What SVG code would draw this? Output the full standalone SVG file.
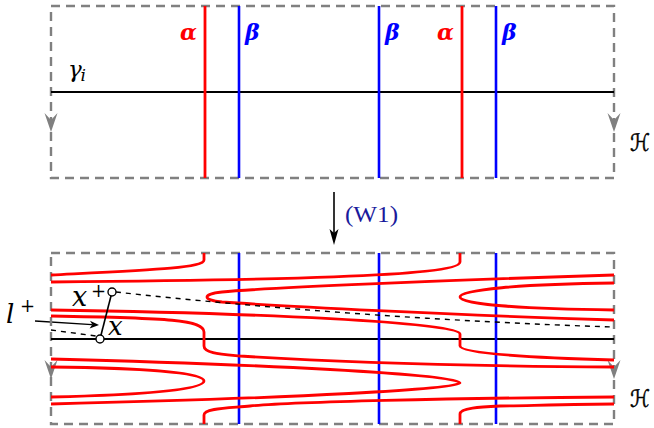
<svg xmlns="http://www.w3.org/2000/svg" width="654" height="428" viewBox="0 0 654 428">
<defs>
<style>
.frame{fill:none;stroke:#808080;stroke-width:2.4;stroke-dasharray:9 6}
.gah{fill:#808080}
.blk{fill:none;stroke:#000;stroke-width:2}
.red{fill:none;stroke:#ff0000;stroke-width:2.8}
.blue{fill:none;stroke:#0000ff;stroke-width:2.6}
.thin{fill:none;stroke:#000;stroke-width:1.4}
.dash{fill:none;stroke:#000;stroke-width:1.4;stroke-dasharray:5 5}
.node{fill:#fff;stroke:#000;stroke-width:1.4}
.gl{font-family:"DejaVu Serif",serif;font-weight:bold;font-style:italic;font-size:22px}
.it{font-family:"DejaVu Serif",serif;font-style:italic}
.sc{font-family:"DejaVu Serif","DejaVu Sans",serif;font-size:24px;stroke:#000;stroke-width:0.5}
</style>
<path id="garrow" d="M-6.5,-19 L0,0 L6.5,-19 L0,-12 Z"/>
</defs>

<g id="top-panel">
  <rect class="frame" x="51" y="6" width="563" height="172"/>
  <use href="#garrow" class="gah" x="51" y="132"/>
  <use href="#garrow" class="gah" x="614" y="132"/>
  <line class="blk" x1="51" y1="92" x2="614" y2="92"/>
  <g id="alpha1"><line class="red" x1="205" y1="6" x2="205" y2="178"/><text class="gl" x="197" y="40" text-anchor="end" fill="#ff0000">α</text></g>
  <g id="beta1"><line class="blue" x1="239" y1="6" x2="239" y2="178"/><text class="gl" x="245" y="40" fill="#0000ff">β</text></g>
  <g id="beta2"><line class="blue" x1="379" y1="6" x2="379" y2="178"/><text class="gl" x="385" y="40" fill="#0000ff">β</text></g>
  <g id="alpha2"><line class="red" x1="462" y1="6" x2="462" y2="178"/><text class="gl" x="454" y="40" text-anchor="end" fill="#ff0000">α</text></g>
  <g id="beta3"><line class="blue" x1="496" y1="6" x2="496" y2="178"/><text class="gl" x="502" y="40" fill="#0000ff">β</text></g>
  <text class="it" x="68" y="77" font-size="23">γ</text><text class="it" x="80.5" y="80.5" font-size="17">i</text>
  <text class="sc" x="630" y="151" textLength="20" lengthAdjust="spacingAndGlyphs">ℋ</text>
</g>

<g id="connectors">
  <line x1="334" y1="192" x2="334" y2="236" stroke="#000" stroke-width="1.6"/>
  <path d="M334,245 L329.5,229 L334,233 L338.5,229 Z" fill="#000"/>
  <text x="345" y="222" font-family="Liberation Serif,serif" font-size="24" fill="#1a1a9c" textLength="53" lengthAdjust="spacingAndGlyphs">(W1)</text>
  <path class="thin" d="M35,321 L92,324.6"/>
  <path d="M99,325 L90,320.8 L92.3,324.6 L89.6,328.4 Z" fill="#000"/>
</g>

<g id="bottom-panel">
  <rect class="frame" x="51" y="253" width="563" height="171"/>
  <use href="#garrow" class="gah" x="51" y="379"/>
  <use href="#garrow" class="gah" x="614" y="379"/>
  <line class="blk" x1="51" y1="339" x2="614" y2="339"/>
  <line class="blue" x1="239" y1="253" x2="239" y2="424"/>
  <line class="blue" x1="379" y1="253" x2="379" y2="424"/>
  <line class="blue" x1="496" y1="253" x2="496" y2="424"/>
  <g id="red-curves">
    <path class="red" d="M204,253 V260 C204,268 150,270 51,275"/>
    <path class="red" d="M51,282 C260,280 460,277 460,262 V253"/>
    <path class="red" d="M614,275 C450,280 260,288 222,292 C202,294 202,300 222,302 C280,306 450,315 614,320"/>
    <path class="red" d="M614,283 C520,284 460,290 460,297 C460,304 520,309 614,310"/>
    <path class="red" d="M51,310 C250,313 460,322 460,334 V346 C460,354 540,358 614,360"/>
    <path class="red" d="M51,316 C170,318 204,320 204,332 V346 C204,353 220,354 240,356 C330,362 450,366 614,367"/>
    <path class="red" d="M51,359 C250,364 460,374 460,383 C460,389 300,398 51,404"/>
    <path class="red" d="M51,367 C140,368 204,372 204,381 C204,390 140,395 51,397"/>
    <path class="red" d="M204,424 V415 C204,408 230,408 250,406 C290,402 450,398 614,397"/>
    <path class="red" d="M460,424 V414 C460,408 480,407 500,406 C550,405 590,404 614,404"/>
  </g>
  <path class="dash" d="M116,292 C260,308 450,322 614,327"/>
  <path class="dash" d="M51,330 L96,336"/>
  <line x1="112" y1="292" x2="100" y2="339" stroke="#000" stroke-width="1.6"/>
  <g id="node-xplus"><circle class="node" cx="112" cy="292" r="4"/><text class="it" x="72" y="306" font-size="27">x</text><text class="it" x="91" y="297" font-size="18">+</text></g>
  <g id="node-x"><circle class="node" cx="100" cy="339" r="4"/><text class="it" x="108" y="335" font-size="26">x</text></g>
  <text class="it" x="6" y="323" font-size="26">l</text><text class="it" x="20" y="312" font-size="18">+</text>
  <text class="sc" x="630" y="407" textLength="20" lengthAdjust="spacingAndGlyphs">ℋ</text>
</g>
</svg>
